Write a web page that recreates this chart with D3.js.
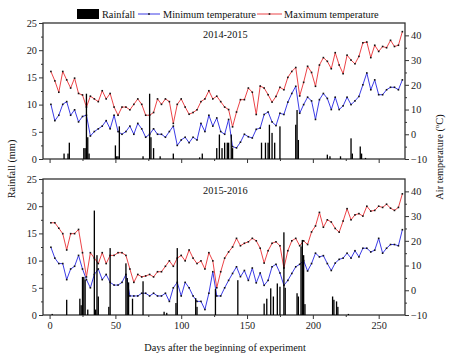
<!DOCTYPE html>
<html>
<head>
<meta charset="utf-8">
<script src="https://cdn.jsdelivr.net/npm/d3@7"></script>
<style>
  body { margin: 0; background: #fff; }
  svg, svg text { font-family: "Liberation Serif", "Times New Roman", serif; }
</style>
</head>
<body>
<div class="canvas"></div>
<script>
// sampled every third day after the start of the experiment
const days = [1,4,7,10,13,16,19,22,25,28,31,34,37,40,43,46,49,52,55,58,61,64,67,70,73,76,79,82,85,88,91,94,97,100,103,106,109,112,115,118,121,124,127,130,133,
  136,139,142,145,148,151,154,157,160,163,166,169,172,175,178,181,184,187,190,193,196,199,202,205,208,211,214,217,220,223,226,229,232,235,238,241,244,247,250,253,256,259,262,265,268];

// 2014-2015 air temperature (°C)
const tmax1415 = [25.4,21.6,17,25.4,22,18.7,22.7,16.5,15.9,11,15.4,14.3,13.2,17.6,14.3,16.5,11,7.7,11,11,9.9,12.1,14.3,12.1,7.7,7.7,8.8,14.3,12.1,14.3,13.2,4.4,12.1,14.3,11,8.1,8.8,9.9,13.2,14.3,17.6,14.3,15.4,13.2,11,
  10,3,9,14,14,18.7,17,8,19.5,18.7,16,13,15.3,19,18,23,25.4,27,15.5,21,27.5,25,19.4,28,31,29.5,26.5,33,28,24.5,32,30,28.5,31.5,37,37.3,31,36,33.5,35.5,35,38,35.5,36,41.5];
const tmin1415 = [12.1,5.5,7.7,12.1,13.2,7.7,9.9,5,7.2,7.7,-0.7,1.1,2.2,3.3,5.5,2.2,7.7,1.1,0,1.1,3.3,0,4.4,2.2,-1.2,0,2.2,0,0,-1.2,1.1,3.3,-4.5,-2.3,-1.2,-3.4,-1.2,-2.3,4.4,1.1,7.7,3.3,6.6,1.1,0,
  6,-5,-5.5,-3.2,0,-1,-1.5,2,2.5,8,9,5,3.5,8.5,8,13,16.5,19.4,8.5,12,15,13.5,6,14,16.5,14.5,10,15,10,11.5,15,12,13.5,15.3,20,24.8,18,22,16,16,18,19,19,18,22];

// 2015-2016 air temperature (°C)
const tmax1516 = [27.3,27.3,25.1,22.9,16.3,22.9,22.9,24.6,15.2,5.4,15.2,13,10.8,15.2,10.8,14.1,14.1,15.2,15.2,14.1,8.6,3.2,6.4,5.4,5.8,6.4,5.4,7.5,7.5,9.7,11.9,9.7,13,14.1,11.9,16.3,13,10.8,11.9,8.6,15.2,11.9,1,7.5,13,
  15.5,17.5,21,18,19,19.6,21,20,17,11,16,19,19.6,18,9,16,20,21,18,20,18.5,23.6,26,31.5,25.5,28.5,27.6,25,23.5,28,33,28.5,30.5,31,30,34,32,32.3,34,33.5,34.8,33.2,32.3,33.5,39];
const tmin1516 = [17.4,13,10.8,10.8,4.3,8.6,9.7,14.1,8.6,4.3,1,6.4,8.6,4.3,6.4,3.2,2.1,2.1,3.2,6.4,-2.3,-2.3,-2.3,-1.2,-1.2,-2.3,-1.2,-2.3,-2.3,-1.2,-4.5,1,3.2,-2.3,3.2,1,-2.3,-4.5,-4.5,-7.8,-1.2,7.5,-2.3,-2.3,1,
  4,6.8,9.5,5.5,8,4,9,3,7,2,4,9.5,10.5,7,2,4,6.8,9.5,10.5,12,7.8,10.8,15,13.5,14,10.8,8,11,12.5,13,15,13,16,13.5,17,17,15.5,16.2,21,15,17,18.5,18.5,18,24.5];

// rainfall (mm) on rainy days
const rainDays1415 = [11,14,15,26,27,28,29,30,50,51,52,53,71,76,77,79,84,94,114,116,127,129,131,133,135,136,138,139,161,164,166,167,169,171,175,187,188,189,211,213,221,229,230,236,237,240];
const rain1415 = [1,1,3,2,2,12,4,1,2.5,0.5,0.5,6,0.5,12,4,2,0.5,1,0.3,1,2,4.5,2,3,3,3,4.5,2,3,3,3,6.3,4.8,3,6,6.3,9,3.5,0.8,0.5,0.5,3.8,1,2.3,1,0.2];
const rainDays1516 = [2,13,23,24,25,26,27,29,34,35,36,37,45,46,58,59,60,63,71,87,89,96,97,111,112,126,143,163,165,168,170,173,175,178,179,188,189,191,192,193,194,215,216,218,219,227];
const rain1516 = [0.2,2.8,3,1.8,7,7,6.5,1,19.2,1,11,3.4,1.5,12.3,9.5,6.8,6,3,6.2,0.6,0.4,2.2,12.3,3.1,1.5,4.8,6.4,2.1,3,4.9,3.4,5.8,5.2,15.2,5,4,3.4,12.6,13.8,11,2,3.4,2.8,2.5,1.5,0.2];

const rainTicks = [0, 5, 10, 15, 20, 25];
const tempTicks = [-10, 0, 10, 20, 30, 40];
const dayTicks = [0, 50, 100, 150, 200, 250];

const width = 450, height = 358;
const left = 43, right = 405;
const red = "#ec4448", blue = "#3c3ce6", frame = "#333";
const serif = '"Liberation Serif", "Times New Roman", serif';
const fs = 10.3;

const svg = d3.select(".canvas").append("svg")
  .attr("width", width)
  .attr("height", height)
  .attr("font-family", serif)
  .attr("font-size", fs);

const x = d3.scaleLinear().domain([-5, 270]).range([left, right]);

function drawPanel(top, bottom, tmax, tmin, rDays, rVals, title, showDays) {
  const yR = d3.scaleLinear().domain([0, 25]).range([bottom, top]);
  const yT = d3.scaleLinear().domain([-10, 45]).range([bottom, top]);
  const g = svg.append("g");

  // x axis (major + minor ticks)
  g.append("g").attr("transform", `translate(0,${bottom})`)
    .call(d3.axisBottom(x).tickValues(dayTicks).tickSize(4).tickPadding(3)
      .tickFormat(showDays ? d3.format("d") : ""));
  g.append("g").attr("transform", `translate(0,${bottom})`)
    .call(d3.axisBottom(x).tickValues([25, 75, 125, 175, 225]).tickSize(2).tickFormat(""));

  g.append("g").attr("transform", `translate(${left},0)`)
    .call(d3.axisLeft(yR).tickValues(rainTicks).tickSize(4).tickPadding(2));
  g.append("g").attr("transform", `translate(${left},0)`)
    .call(d3.axisLeft(yR).tickValues([2.5, 7.5, 12.5, 17.5, 22.5]).tickSize(2).tickFormat(""));

  g.append("g").attr("transform", `translate(${right},0)`)
    .call(d3.axisRight(yT).tickValues(tempTicks).tickSize(4).tickPadding(2));
  g.append("g").attr("transform", `translate(${right},0)`)
    .call(d3.axisRight(yT).tickValues([-5, 5, 15, 25, 35]).tickSize(2).tickFormat(""));

  g.selectAll("g").attr("font-family", serif).attr("font-size", fs);
  g.selectAll(".domain").remove();
  g.selectAll(".tick line").attr("stroke", frame);
  g.selectAll(".tick text").attr("fill", "#222");

  g.append("rect")
    .attr("x", left).attr("y", top)
    .attr("width", right - left).attr("height", bottom - top)
    .attr("fill", "none").attr("stroke", frame).attr("stroke-width", 1.3);

  const line = d3.line().x((d, i) => x(days[i])).y(d => yT(d));

  [[tmin, blue], [tmax, red]].forEach(([vals, col]) => {
    g.append("path").datum(vals)
      .attr("fill", "none").attr("stroke", col).attr("stroke-width", 1)
      .attr("d", line);
    g.append("g").selectAll("rect").data(vals).join("rect")
      .attr("x", (d, i) => x(days[i]) - 0.8)
      .attr("y", d => yT(d) - 0.8)
      .attr("width", 1.6).attr("height", 1.6)
      .attr("fill", "#111");
  });

  const bw = x(1) - x(0);
  g.append("g").selectAll("rect").data(rVals).join("rect")
    .attr("x", (d, i) => x(rDays[i]) - bw / 2)
    .attr("y", d => yR(d))
    .attr("width", bw)
    .attr("height", d => yR(0) - yR(d))
    .attr("fill", "#000");

  g.append("text").attr("x", 203).attr("y", top + 15)
    .attr("fill", "#111").text(title);
}

drawPanel(23, 159, tmax1415, tmin1415, rainDays1415, rain1415, "2014-2015", false);
drawPanel(179, 315, tmax1516, tmin1516, rainDays1516, rain1516, "2015-2016", true);

// legend
const lg = svg.append("g").attr("fill", "#111");
lg.append("rect").attr("x", 77).attr("y", 9).attr("width", 22).attr("height", 10).attr("fill", "#000");
lg.append("text").attr("x", 102).attr("y", 18).text("Rainfall");
[[138, 160, 163, blue, "Minimum temperature"], [257, 282, 284, red, "Maximum temperature"]].forEach(([a, b, t, col, label]) => {
  lg.append("line").attr("x1", a).attr("x2", b).attr("y1", 14).attr("y2", 14).attr("stroke", col).attr("stroke-width", 1);
  lg.append("rect").attr("x", (a + b) / 2 - 0.8).attr("y", 13.2).attr("width", 1.6).attr("height", 1.6).attr("fill", "#111");
  lg.append("text").attr("x", t).attr("y", 18).text(label);
});

// axis titles
svg.append("text").attr("x", 225).attr("y", 351).attr("text-anchor", "middle")
  .attr("fill", "#111").text("Days after the beginning of experiment");
svg.append("text").attr("transform", "translate(15,169) rotate(-90)").attr("text-anchor", "middle")
  .attr("fill", "#111").text("Rainfall (mm)");
const at = svg.append("text").attr("transform", "translate(443,157) rotate(-90)").attr("text-anchor", "middle")
  .attr("fill", "#111");
at.append("tspan").text("Air temperature (");
at.append("tspan").attr("dy", -4).style("font-size", "7px").text("o");
at.append("tspan").attr("dy", 4).text("C)");
</script>
</body>
</html>
